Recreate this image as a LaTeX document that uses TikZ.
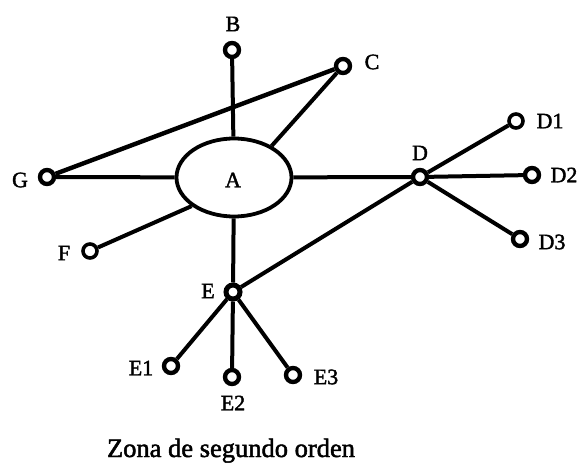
\documentclass[tikz,border=0pt]{standalone}
\usepackage{fontspec}
\setmainfont[FakeBold=1.8]{Liberation Serif}
\usetikzlibrary{shapes.geometric}
\begin{document}
\begin{tikzpicture}[x=1pt,y=-1pt,
  pt/.style={circle,draw,line width=4.4pt,minimum size=14pt,inner sep=0pt,fill=white},
  lbl/.style={font=\fontsize{22}{22}\selectfont,inner sep=0pt},
  link/.style={line width=4pt}]
\fill[white] (0,0) rectangle (582,463);
\useasboundingbox (0,0) rectangle (582,463);
% central zone
\node[ellipse,draw,line width=3.8pt,minimum width=115pt,minimum height=78pt,inner sep=0pt] (A) at (234,177.5) {};
\node[lbl] (Al) at (233,180) {A};
% points
\node[pt] (B) at (232,50) {};
\node[pt] (C) at (343,66) {};
\node[pt] (G) at (47,177) {};
\node[pt,line width=3.6pt] (F) at (90,251) {};
\node[pt] (D) at (420,177) {};
\node[pt,line width=3.6pt] (D1) at (516,121) {};
\node[pt] (D2) at (532,175) {};
\node[pt] (D3) at (520,239) {};
\node[pt,line width=5pt] (E) at (233,292) {};
\node[pt] (E1) at (171,366) {};
\node[pt] (E2) at (232,377) {};
\node[pt] (E3) at (293,375) {};
% labels
\node[lbl] at (233,24) {B};
\node[lbl] at (372,62) {C};
\node[lbl] at (20,180) {G};
\node[lbl] at (64,253) {F};
\node[lbl] at (420,153) {D};
\node[lbl] at (550,121) {D1};
\node[lbl] at (564,175) {D2};
\node[lbl] at (552,242) {D3};
\node[lbl] at (208,291) {E};
\node[lbl] at (141,368) {E1};
\node[lbl] at (233,403) {E2};
\node[lbl] at (326,377) {E3};
\node[font=\fontsize{26.5}{26.5}\selectfont,inner sep=0pt,anchor=base] (cap) at (231,457) {Zona de segundo orden};
% connectors
\draw[link] (B) -- (A);
\draw[link,line width=4.4pt] (G) -- (C);
\draw[link] (C) -- (A.40);
\draw[link] (G) -- (A);
\draw[link] (F) -- (A.214);
\draw[link] (A) -- (D);
\draw[link] (D) -- (D1);
\draw[link] (D) -- (D2);
\draw[link] (D) -- (D3);
\draw[link] (A) -- (E);
\draw[link] (E) -- (D);
\draw[link] (E) -- (E1);
\draw[link] (E) -- (E2);
\draw[link] (E) -- (E3);
\end{tikzpicture}
\end{document}
